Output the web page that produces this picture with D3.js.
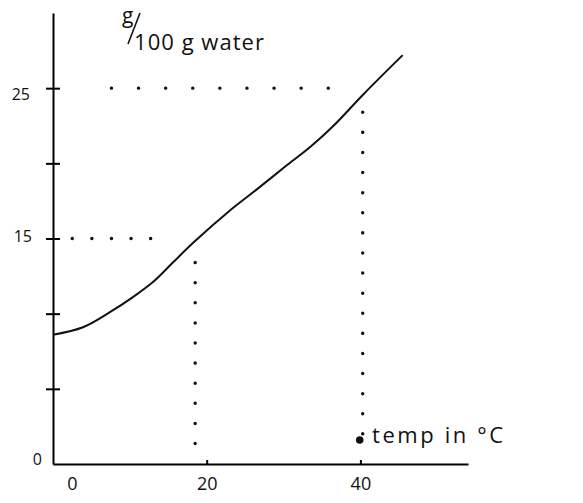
<!DOCTYPE html>
<html lang="en">

<head>
    <meta charset="UTF-8">
    <script src="https://cdnjs.cloudflare.com/ajax/libs/d3/7.8.5/d3.min.js"></script>
    <title>Solubility curve</title>
    <style>
        body { margin: 0; background: #fff; }
        text { font-family: 'Open Sans', sans-serif; fill: #111; }
    </style>
</head>

<body>
    <div id="content"></div>
</body>
<script>
    // solubility curve
    const curveTemp = [0, 3.9, 7.4, 10.4, 13.0, 15.6, 18.2, 23.1, 26.6, 30.5, 33.5, 36.5, 40.4, 45.5];
    const curveSol = [8.6, 9.1, 10.1, 11.1, 12.1, 13.4, 14.7, 16.9, 18.3, 19.9, 21.1, 22.5, 24.6, 27.2];
    const yTicks = [0, 5, 10, 15, 20, 25];
    const yLabels = ['0', '', '', '15', '', '25'];
    const xTicks = [0, 20, 40];
    const xLabels = ['0', '20', '40'];
    // dotted read-off lines (value units)
    const hGuideSol = [15, 25];
    const hGuideFrom = [2.5, 7.6];
    const hGuideTo = [15.2, 37];
    const vGuideTemp = [18.5, 40.3];
    const vGuideFrom = [1.3, 1.6];
    const vGuideTo = [13.4, 23.4];

    const width = 583;
    const height = 503;

    const x = d3.scaleLinear().domain([0, 54]).range([53, 468]);
    const y = d3.scaleLinear().domain([0, 30]).range([464, 13]);

    const svg = d3.select('#content')
        .append('svg')
        .attr('width', width)
        .attr('height', height);

    //Axis Y
    const yAxis = d3.axisLeft(y)
        .tickValues(yTicks)
        .tickFormat((d, i) => yLabels[i])
        .tickSizeInner(7)
        .tickSizeOuter(0)
        .tickPadding(14);
    const gy = svg.append('g')
        .attr('transform', `translate(${x(0)},0)`)
        .call(yAxis);
    gy.select('.domain').attr('stroke-width', 2);
    gy.selectAll('.tick line')
        .attr('x1', 7)
        .attr('stroke-width', 2)
        .style('display', d => d === 0 ? 'none' : null);
    gy.selectAll('.tick text')
        .style('font-size', '16px')
        .attr('dx', d => d === 0 ? 10 : (d === 25 ? -2 : 0))
        .attr('dy', d => d === 0 ? '0' : (d === 25 ? '0.7em' : '0.2em'));

    //Axis X
    const xAxis = d3.axisBottom(x)
        .tickValues(xTicks)
        .tickFormat((d, i) => xLabels[i])
        .tickSizeInner(-4)
        .tickSizeOuter(0)
        .tickPadding(13);
    const gx = svg.append('g')
        .attr('transform', `translate(0,${y(0)})`)
        .call(xAxis);
    gx.select('.domain').attr('stroke-width', 2);
    gx.selectAll('.tick line')
        .attr('stroke-width', 2)
        .style('display', d => d === 0 ? 'none' : null);
    gx.selectAll('.tick text')
        .style('font-size', '18px')
        .attr('dx', d => d === 0 ? 19 : 0);

    //Guides
    const dotted = { stroke: '#111', 'stroke-width': 3.4, 'stroke-linecap': 'round' };
    hGuideSol.forEach((s, i) => {
        const l = svg.append('line')
            .attr('x1', x(hGuideFrom[i])).attr('x2', x(hGuideTo[i]))
            .attr('y1', y(s)).attr('y2', y(s))
            .attr('stroke-dasharray', i === 0 ? '0.1 19.5' : '0.1 27');
        Object.entries(dotted).forEach(([k, v]) => l.attr(k, v));
    });
    vGuideTemp.forEach((t, i) => {
        const l = svg.append('line')
            .attr('x1', x(t)).attr('x2', x(t))
            .attr('y1', y(vGuideTo[i])).attr('y2', y(vGuideFrom[i]))
            .attr('stroke-dasharray', '0.1 20');
        Object.entries(dotted).forEach(([k, v]) => l.attr(k, v));
    });
    svg.append('circle')
        .attr('cx', x(vGuideTemp[1]) - 3)
        .attr('cy', y(vGuideFrom[1]))
        .attr('r', 3.8)
        .attr('fill', '#111');

    //Curve
    const line = d3.line()
        .x((d, i) => x(curveTemp[i]))
        .y(d => y(d))
        .curve(d3.curveCatmullRom);
    svg.append('path')
        .datum(curveSol)
        .attr('d', line)
        .attr('fill', 'none')
        .attr('stroke', '#111')
        .attr('stroke-width', 2);

    //Labels (g / 100 g water, slash drawn as a stroke)
    svg.append('text')
        .attr('x', 122).attr('y', 23)
        .style('font-size', '21px')
        .text('g');
    svg.append('line')
        .attr('x1', 128).attr('y1', 44)
        .attr('x2', 140).attr('y2', 13)
        .attr('stroke', '#111')
        .attr('stroke-width', 1.6);
    svg.append('text')
        .attr('x', 134).attr('y', 50)
        .attr('textLength', 130)
        .style('font-size', '22px')
        .text('100 g water');
    svg.append('text')
        .attr('x', 372).attr('y', 443)
        .attr('textLength', 131)
        .style('font-size', '22px')
        .text('temp in °C');
</script>

</html>
